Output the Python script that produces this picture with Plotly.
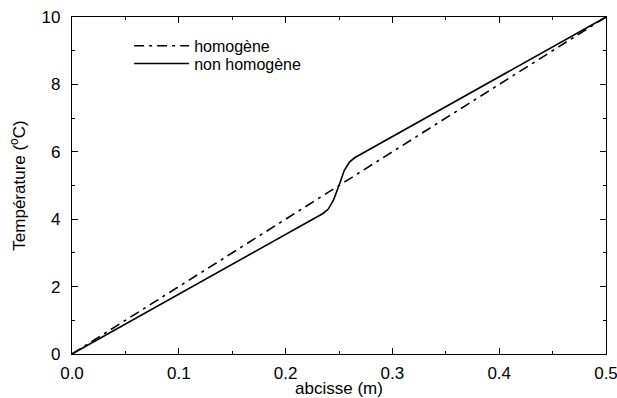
import plotly.graph_objects as go

# Data
x_homog = [0.0, 0.5]
t_homog = [0.0, 10.0]

x_nonhomog = [0.0, 0.235, 0.240, 0.245, 0.250, 0.255, 0.260, 0.265, 0.5]
t_nonhomog = [0.0, 4.17, 4.30, 4.58, 5.00, 5.45, 5.70, 5.83, 10.0]

x_ticks = [0.0, 0.1, 0.2, 0.3, 0.4, 0.5]
x_ticklabels = ["0.0", "0.1", "0.2", "0.3", "0.4", "0.5"]
y_ticks = [0, 2, 4, 6, 8, 10]

FONT = "Liberation Sans, Arial, Helvetica, sans-serif"

fig = go.Figure()
fig.add_trace(go.Scatter(
    x=x_homog, y=t_homog, mode="lines", name="homogène",
    line=dict(color="black", width=1.6, dash="10px,5px,3px,5px"),
    legend="legend",
))
fig.add_trace(go.Scatter(
    x=x_nonhomog, y=t_nonhomog, mode="lines", name="non homogène",
    line=dict(color="black", width=1.6),
    legend="legend2",
))

axis_common = dict(
    showline=True, linecolor="black", linewidth=1.2, mirror="ticks",
    ticks="inside", ticklen=6, tickwidth=1, tickcolor="black",
    showgrid=False, zeroline=False,
    ticklabeloverflow="allow",
    tickfont=dict(family=FONT, size=17, color="black"),
)

fig.update_xaxes(
    range=[0, 0.5], tickvals=x_ticks, ticktext=x_ticklabels,
    ticklabelstandoff=3, automargin=False,
    title=dict(text="abcisse (m)", font=dict(family=FONT, size=17, color="black"), standoff=2),
    minor=dict(ticks="inside", dtick=0.05, ticklen=3, tickcolor="black", showgrid=False),
    **axis_common,
)
fig.update_yaxes(
    range=[0, 10], tickvals=y_ticks,
    ticklabelstandoff=7, automargin="left",
    title=dict(text="Température (<sup>o</sup>C)", font=dict(family=FONT, size=17, color="black"), standoff=11),
    minor=dict(ticks="inside", dtick=1, ticklen=3, tickcolor="black", showgrid=False),
    **axis_common,
)

leg_common = dict(
    xanchor="left", yanchor="top",
    bgcolor="rgba(0,0,0,0)", borderwidth=0,
    font=dict(family=FONT, size=16, color="black"),
    itemwidth=55,
)

fig.update_layout(
    width=617, height=398,
    margin=dict(l=72, r=11, t=17, b=44),
    paper_bgcolor="white", plot_bgcolor="white",
    font=dict(family=FONT, size=17, color="black"),
    showlegend=True,
    legend=dict(x=0.107, y=0.965, **leg_common),
    legend2=dict(x=0.107, y=0.912, **leg_common),
)

fig.write_html("out.html")
